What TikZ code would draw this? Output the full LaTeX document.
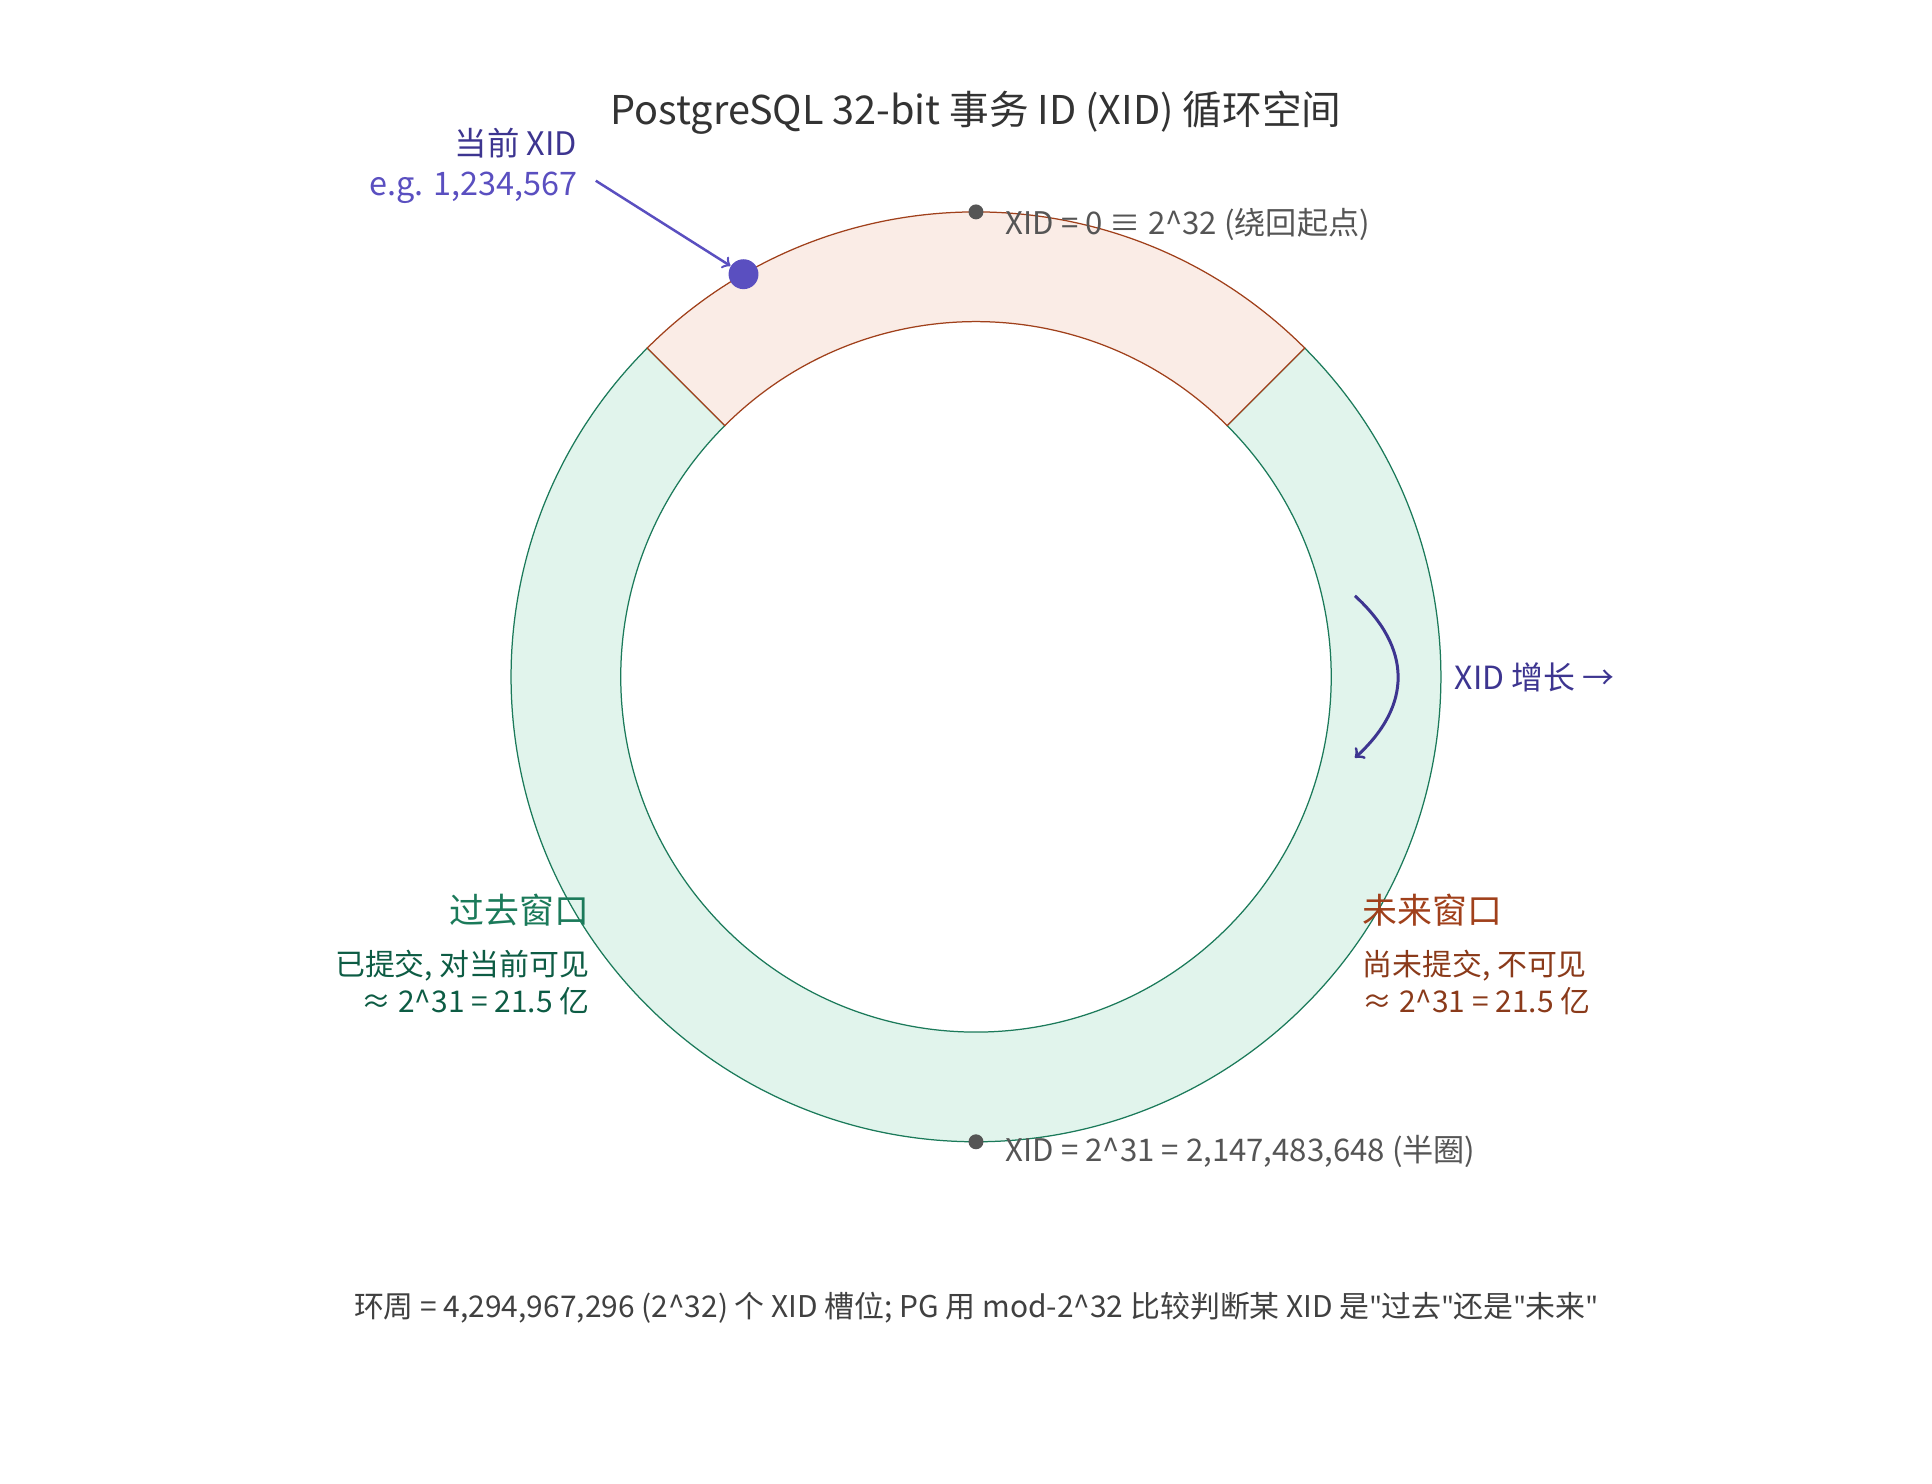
\documentclass[tikz,border=0pt]{standalone}
\usepackage{fontspec}
\setmainfont{Noto Sans CJK SC}
\newfontfamily\latinfont{Noto Sans}
\usetikzlibrary{arrows}
\definecolor{pastfill}{HTML}{E1F4EC}
\definecolor{pastline}{HTML}{1B7A5A}
\definecolor{pasttext}{HTML}{0D5C44}
\definecolor{futfill}{HTML}{FAECE6}
\definecolor{futline}{HTML}{A0401B}
\definecolor{futtext}{HTML}{8A3A1A}
\definecolor{curline}{HTML}{5A4FC0}
\definecolor{curtext}{HTML}{3D3590}
\definecolor{marktext}{HTML}{555555}
\newcommand{\qt}{{\latinfont"}}
\tikzstyle{sector} = [line width=0.5pt]
\tikzstyle{xidmark} = [circle, fill=marktext, inner sep=0pt, minimum size=6pt]
\tikzstyle{marklabel} = [anchor=west, text=marktext, font=\fontsize{12.5}{15}\selectfont]
\tikzstyle{winhead} = [font=\fontsize{14}{16}\selectfont]
\tikzstyle{winbody} = [font=\fontsize{12}{15}\selectfont, align=left]
\begin{document}
\begin{tikzpicture}[x=0.5pt, y=0.5pt]
	\useasboundingbox (0,0) rectangle (1550,-1190);
	\coordinate (c) at (783,-543);
	
	% ring
	\draw [sector, fill=pastfill, draw=pastline] ([shift={(135:373)}]c) arc[start angle=135, end angle=405, radius=373] -- ([shift={(45:285)}]c) arc[start angle=45, end angle=-225, radius=285] -- cycle;
	\draw [sector, fill=futfill, draw=futline] ([shift={(45:373)}]c) arc[start angle=45, end angle=135, radius=373] -- ([shift={(135:285)}]c) arc[start angle=135, end angle=45, radius=285] -- cycle;
	
	\node (title) at (783,-90) {\fontsize{15.9}{18}\selectfont\color{black!80} PostgreSQL 32-bit 事务 ID (XID) 循环空间};
	
	\node [xidmark] (zero) at ([shift={(90:373)}]c) {};
	\node [xidmark] (half) at ([shift={(270:373)}]c) {};
	\node [marklabel] (zerolbl) at (800,-180) {XID = 0 ≡ 2\^{}32 (绕回起点)};
	\node [marklabel] (halflbl) at (800,-924) {XID = 2\^{}31 = 2,147,483,648 (半圈)};
	
	\node [circle, fill=curline, inner sep=0pt, minimum size=12pt] (cur) at ([shift={(120:373)}]c) {};
	\node [anchor=east, align=right, font=\fontsize{13}{16}\selectfont] (curlbl) at (470,-133) {\textcolor{curtext}{当前 XID}\\\textcolor{curline}{e.g. 1,234,567}};
	\coordinate (curtail) at (478,-145);
	\draw [curline, line width=1pt, ->] (curtail) -- (cur);
	
	\coordinate (g1) at (1087,-478);
	\coordinate (g2) at (1087,-608);
	\draw [curtext, line width=1.2pt, ->] (g1) .. controls (1133,-520) and (1133,-566) .. (g2);
	\node [anchor=west, text=curtext, font=\fontsize{12.8}{14}\selectfont] (growlbl) at (1160,-543) {XID 增长 →};
	
	\node [winhead, anchor=east, text=pastline] (past) at (480,-730) {过去窗口};
	\node [winbody, anchor=north east, align=right, text=pasttext] (pastbody) at (480,-755) {已提交, 对当前可见\\≈ 2\^{}31 = 21.5 亿};
	\node [winhead, anchor=west, text=futline] (fut) at (1086,-730) {未来窗口};
	\node [winbody, anchor=north west, text=futtext] (futbody) at (1086,-755) {尚未提交, 不可见\\≈ 2\^{}31 = 21.5 亿};
	
	\node [text=black!75, font=\fontsize{12}{13}\selectfont] (note) at (783,-1049) {环周 = 4,294,967,296 (2\^{}32) 个 XID 槽位; PG 用 mod-2\^{}32 比较判断某 XID 是\qt 过去\qt 还是\qt 未来\qt};
\end{tikzpicture}
\end{document}
